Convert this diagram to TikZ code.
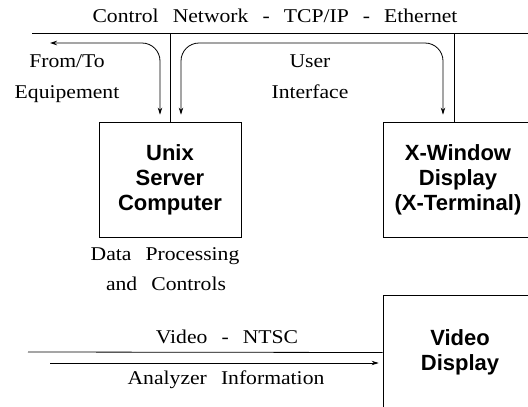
\documentclass[tikz,border=0pt]{standalone}
\usepackage{fontspec}
\setmainfont{Liberation Serif}
\newfontfamily\labelfont[FakeStretch=1.11,WordSpace=2.6]{Liberation Serif}
\newfontfamily\boxfont{Liberation Sans}
\usetikzlibrary{arrows.meta,positioning}
\tikzstyle{arrow} = [line width=0.8pt,-{Stealth[length=7pt,width=4.5pt]}]
\tikzstyle{dblarrow} = [line width=0.8pt,{Stealth[length=7pt,width=4.5pt]}-{Stealth[length=7pt,width=4.5pt]}]

\begin{document}
\begin{tikzpicture}[
    x=1pt, y=-1pt,
    line width=0.8pt,
    lbl/.style={font=\labelfont\fontsize{19.5}{22}\selectfont, inner sep=0pt, anchor=base},
    box/.style={rectangle, draw, minimum height=115pt, align=center, inner sep=0pt, font=\boxfont\bfseries\fontsize{22}{25}\selectfont}
]
\useasboundingbox (0,0) rectangle (528,407);
\clip (0,0) rectangle (528,407);

% Boxes
\node[box, minimum width=142pt] (unix) at (170,179.5) {Unix\\Server\\Computer};
\node[box, minimum width=150pt] (xterm) at (458,179.5) {X-Window\\Display\\(X-Terminal)};
\node[box, minimum width=154pt] (video) at (460,352.5) {Video\\Display};

% Control network bus
\coordinate (busL) at (32,33);
\coordinate (busR) at (528,33);
\draw (busL) -- (busR);
\draw (unix.north) -- (unix.north |- busL);
\coordinate (xtap) at ([xshift=-4pt]xterm.north);
\draw (xtap) -- (xtap |- busL);

% Labels
\node[lbl] (ctrlnet) at (275,22.5) {Control Network - TCP/IP - Ethernet};
\node[lbl] (fromto) at (67,67) {From/To};
\node[lbl] (equip) at (67,98) {Equipement};
\node[lbl] (user) at (310,67) {User};
\node[lbl] (iface) at (310,98) {Interface};
\node[lbl] (dataproc) at (165,260.5) {Data Processing};
\node[lbl] (controls) at (166,290) {and Controls};
\node[lbl] (ntsc) at (227,343) {Video - NTSC};
\node[lbl] (analyzer) at (226,384) {Analyzer Information};

% Arrows to/from the server
\coordinate (equipL) at (50,43);
\coordinate (equipT) at ([xshift=-10pt,yshift=7pt]unix.north);
\draw[dblarrow, rounded corners=18pt] (equipL) -| (equipT);
\coordinate (uiA) at ([xshift=11pt,yshift=7pt]unix.north);
\coordinate (uiB) at ([xshift=-15pt,yshift=7pt]xterm.north);
\draw[dblarrow, rounded corners=18pt] (uiA) -- (uiA |- equipL) -- (uiB |- equipL) -- (uiB);

% Video link
\coordinate (vidL) at (28,352);
\draw (vidL) -- (video.west);
\coordinate (anaL) at (50,363);
\draw[arrow, shorten >=4pt] (anaL) -- (anaL -| video.west);

\end{tikzpicture}
\end{document}
